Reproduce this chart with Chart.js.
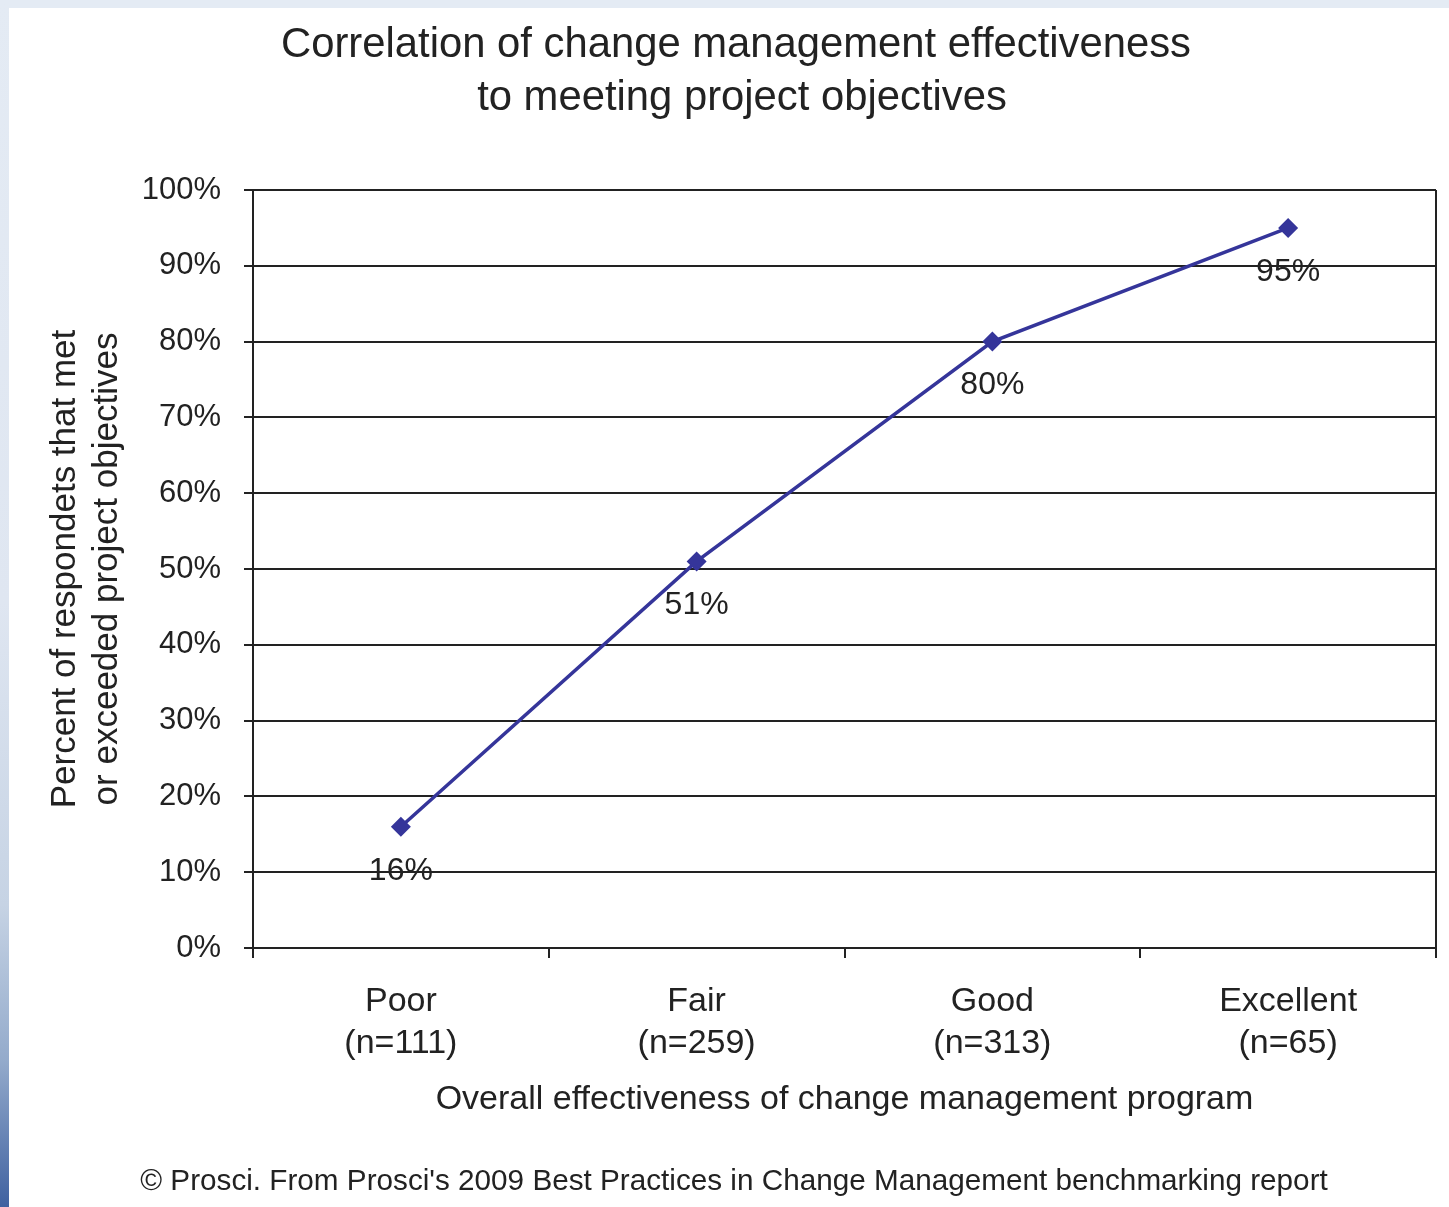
<!DOCTYPE html>
<html>
<head>
<meta charset="utf-8">
<script src="https://cdn.jsdelivr.net/npm/chart.js@4"></script>
<style>
  body { margin: 0; background: #fff; overflow: hidden; }
  #topStrip { position: absolute; left: 0; top: 0; width: 1449px; height: 8px; background: #e4ebf4; }
  #leftStrip { position: absolute; left: 0; top: 0; width: 9px; height: 1207px;
    background: linear-gradient(to bottom, #e4ebf4 0%, #dfe6f1 50%, #c6d3e4 75%, #93aacb 88%, #3f61a0 100%); }
  #wrap { position: absolute; left: 0; top: 0; width: 1449px; height: 1207px; }
</style>
</head>
<body>
<div id="topStrip"></div>
<div id="leftStrip"></div>
<div id="wrap"><canvas id="chart"></canvas></div>
<script>
// categorias y valores
const categorias = [['Poor', '(n=111)'], ['Fair', '(n=259)'], ['Good', '(n=313)'], ['Excellent', '(n=65)']];
const valores = [16, 51, 80, 95];
const tickValores = [0, 10, 20, 30, 40, 50, 60, 70, 80, 90, 100];

const titulo = ['Correlation of change management effectiveness', 'to meeting project objectives'];
const pie = '\u00A9 Prosci. From Prosci\'s 2009 Best Practices in Change Management benchmarking report';

const fuente = '"Liberation Sans", Arial, sans-serif';
const tinta = '#222';

// titulo, pie y etiquetas de datos
const textos = {
  id: 'textos',
  afterDraw(chart) {
    const ctx = chart.ctx;
    ctx.save();
    ctx.fillStyle = tinta;
    ctx.textAlign = 'center';
    ctx.textBaseline = 'middle';
    ctx.font = '41.8px ' + fuente;
    ctx.fillText(titulo[0], 736, 45);
    ctx.fillText(titulo[1], 742, 98);
    ctx.font = '29.7px ' + fuente;
    ctx.fillText(pie, 734, 1182);

    ctx.font = '32px ' + fuente;
    const meta = chart.getDatasetMeta(0);
    meta.data.forEach((p, i) => {
      ctx.fillText(valores[i] + '%', p.x, p.y + 44);
    });
    ctx.restore();
  }
};

const ctx = document.getElementById('chart').getContext('2d');
const grafico = new Chart(ctx, {
  type: 'line',
  data: {
    labels: categorias,
    datasets: [{
      data: valores,
      borderColor: '#35359a',
      backgroundColor: '#35359a',
      borderWidth: 3.5,
      pointStyle: 'rectRot',
      pointRadius: 10,
      pointBorderWidth: 0,
      tension: 0
    }]
  },
  options: {
    responsive: true,
    maintainAspectRatio: false,
    animation: false,
    layout: { padding: { top: 190, left: 0, right: 13, bottom: 87 } },
    plugins: {
      legend: { display: false },
      tooltip: { enabled: false }
    },
    scales: {
      x: {
        offset: true,
        grid: {
          offset: true,
          drawOnChartArea: true,
          // solo la linea del borde derecho
          color: c => c.tick ? 'rgba(0,0,0,0)' : tinta,
          tickColor: tinta,
          tickLength: 10,
          lineWidth: 2
        },
        border: { color: tinta, width: 2 },
        ticks: {
          color: tinta,
          padding: 22,
          font: { family: fuente, size: 34, lineHeight: 1.25 },
          maxRotation: 0
        },
        title: {
          display: true,
          text: 'Overall effectiveness of change management program',
          color: tinta,
          padding: 0,
          font: { family: fuente, size: 34, lineHeight: 1.2 }
        },
        afterFit: s => { s.height = 172; }
      },
      y: {
        min: 0,
        max: 100,
        afterBuildTicks: s => { s.ticks = tickValores.map(v => ({ value: v })); },
        grid: { color: tinta, lineWidth: 2, tickLength: 9 },
        border: { color: tinta, width: 2 },
        ticks: {
          color: tinta,
          padding: 23,
          font: { family: fuente, size: 31 },
          callback: v => v + '%'
        },
        title: {
          display: true,
          text: ['Percent of respondets that met', 'or exceeded project objectives'],
          color: tinta,
          padding: { top: 44, bottom: 0 },
          font: { family: fuente, size: 35, lineHeight: 1.2 }
        },
        afterFit: s => { s.width = 253; }
      }
    }
  },
  plugins: [textos]
});
</script>
</body>
</html>
